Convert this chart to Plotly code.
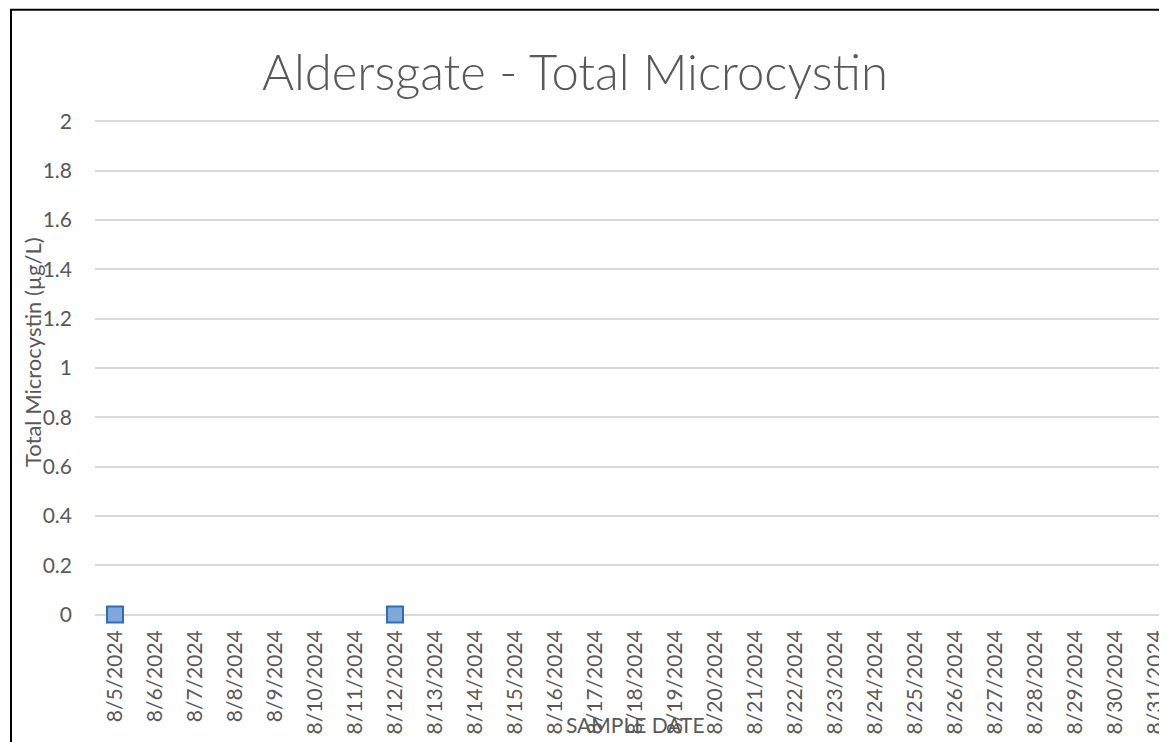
import plotly.graph_objects as go

# Data
dates = ["8/%d/2024" % d for d in range(5, 32)]
sample_dates = ["8/5/2024", "8/12/2024"]
microcystin = [0, 0]

title_text = "Aldersgate - Total Microcystin"
y_title = "Total Microcystin (µg/L)"
x_title = "SAMPLE DATE"
y_ticks = [0, 0.2, 0.4, 0.6, 0.8, 1, 1.2, 1.4, 1.6, 1.8, 2]

# page body has an 8px margin: figure coords = window coords - 8
W, H = 1159, 734
L, R, T, B = 87, 0, 110.5, 124.5
pw, ph = W - L - R, H - T - B
grey = "#595959"
font = "Lato"

fig = go.Figure()
fig.add_trace(go.Scatter(
    x=sample_dates, y=microcystin, mode="markers",
    marker=dict(symbol="square", size=16, color="#7ea8da",
                line=dict(color="#2e6db4", width=2)),
    cliponaxis=False, showlegend=False,
))

fig.update_layout(
    width=W, height=H, autosize=False,
    margin=dict(l=L, r=R, t=T, b=B, autoexpand=False),
    paper_bgcolor="white", plot_bgcolor="white",
    font=dict(family=font, color=grey, size=21),
    title=dict(text=title_text, x=567 / W, xanchor="center", y=1 - 65 / H, yanchor="middle",
               font=dict(family=font, size=49, color=grey, weight=300)),
    xaxis=dict(type="category", categoryorder="array", categoryarray=dates,
               tickmode="array", tickvals=dates, ticktext=dates,
               range=[-0.5, (pw / 40) - 0.5], tickangle=-90, showgrid=False,
               showline=False, zeroline=False, ticks="", ticklabelstandoff=8,
               tickfont=dict(size=21, color=grey)),
    yaxis=dict(range=[-0.01, 2.01], tickvals=y_ticks, ticktext=[str(v) for v in y_ticks],
               showgrid=True, gridcolor="#d9d9d9", gridwidth=1.5,
               zeroline=False, showline=False, ticks="", ticklabelstandoff=22,
               tickfont=dict(size=21, color=grey)),
)

fig.add_annotation(text=y_title, xref="paper", yref="paper",
                   x=(24 - L) / pw, y=1 - (344 - T) / ph, textangle=-90,
                   showarrow=False, xanchor="center", yanchor="middle",
                   font=dict(size=22, color=grey, family=font))
fig.add_annotation(text=x_title, xref="paper", yref="paper",
                   x=(627 - L) / pw, y=1 - (717 - T) / ph,
                   showarrow=False, xanchor="center", yanchor="middle",
                   font=dict(size=21, color=grey, family=font))

fig.add_shape(type="rect", xref="paper", yref="paper",
              x0=(3 - L) / pw, x1=1.1, y0=-0.6, y1=1 + (T - 1) / ph,
              line=dict(color="black", width=2), layer="above")

fig.write_html("out.html")
